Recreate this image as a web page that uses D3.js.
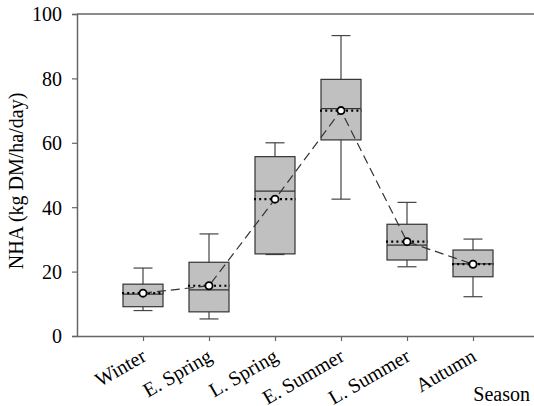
<!DOCTYPE html>
<html>
<head>
<meta charset="utf-8">
<script src="https://cdn.jsdelivr.net/npm/d3@7"></script>
<style>
  body { margin: 0; background: #fff; }
</style>
</head>
<body>
<div id="chart"></div>
<script>
// data
var seasons = ["Winter", "E. Spring", "L. Spring", "E. Summer", "L. Summer", "Autumn"];
var whiskerLow  = [7.9, 5.3, 25.3, 42.5, 21.5, 12.2];
var q1          = [9.1, 7.5, 25.5, 60.9, 23.6, 18.4];
var medians     = [13.0, 14.3, 45.0, 70.6, 28.2, 22.4];
var q3          = [16.1, 22.9, 55.7, 79.7, 34.7, 26.7];
var whiskerHigh = [21.1, 31.7, 60.0, 93.3, 41.5, 30.1];
var means       = [13.3, 15.6, 42.5, 70.0, 29.3, 22.3];
var yTicks = [0, 20, 40, 60, 80, 100];

var W = 534, H = 406;
var mLeft = 77, mTop = 14, mBottom = 336, mRight = 539;
var FONT = "'Liberation Serif', 'DejaVu Serif', serif";

var svg = d3.select("#chart").append("svg")
    .attr("width", W).attr("height", H);

var x = d3.scalePoint().domain(seasons).range([mLeft, mRight]).padding(1);
var y = d3.scaleLinear().domain([0, 100]).range([mBottom, mTop]);

var boxW = 40, capW = 19;
var data = seasons.map(function(s, i) {
  return {s: s, lo: whiskerLow[i], q1: q1[i], med: medians[i], q3: q3[i], hi: whiskerHigh[i], mean: means[i]};
});

// frame top / right
svg.append("line").attr("x1", mLeft).attr("x2", mRight).attr("y1", y(100)).attr("y2", y(100))
  .attr("stroke", "#666").attr("stroke-width", 1.5);
svg.append("line").attr("x1", mRight).attr("x2", mRight).attr("y1", mTop).attr("y2", mBottom)
  .attr("stroke", "#666").attr("stroke-width", 1.5);

// axes
var yAxis = svg.append("g").attr("transform", "translate(" + mLeft + ",0)")
  .call(d3.axisLeft(y).tickValues(yTicks).tickSize(5).tickPadding(10));
var xAxis = svg.append("g").attr("transform", "translate(0," + mBottom + ")")
  .call(d3.axisBottom(x).tickSize(5).tickSizeOuter(0));
[yAxis, xAxis].forEach(function(a) {
  a.attr("font-family", null).attr("font-size", null);
  a.select(".domain").attr("stroke", "#666").attr("stroke-width", 1.5);
  a.selectAll(".tick line").attr("stroke", "#666").attr("stroke-width", 1.2);
});
yAxis.selectAll("text").style("font-family", FONT).style("font-size", "20px").attr("fill", "#000").attr("dy", "0.34em");
xAxis.selectAll("text")
  .style("font-family", FONT)
  .style("font-size", "20px")
  .attr("fill", "#000")
  .attr("text-anchor", "end")
  .attr("y", 0).attr("dy", 0)
  .attr("transform", "translate(4,24) rotate(-30)");

// whiskers
var g = svg.append("g");
var items = g.selectAll("g.box").data(data).enter().append("g").attr("class", "box");
items.append("line")
  .attr("x1", function(d) { return x(d.s); }).attr("x2", function(d) { return x(d.s); })
  .attr("y1", function(d) { return y(d.hi); }).attr("y2", function(d) { return y(d.lo); })
  .attr("stroke", "#444").attr("stroke-width", 1.2);
["hi", "lo"].forEach(function(k) {
  items.append("line")
    .attr("x1", function(d) { return x(d.s) - capW / 2; })
    .attr("x2", function(d) { return x(d.s) + capW / 2; })
    .attr("y1", function(d) { return y(d[k]); }).attr("y2", function(d) { return y(d[k]); })
    .attr("stroke", "#444").attr("stroke-width", 1.2);
});
items.append("rect")
  .attr("x", function(d) { return x(d.s) - boxW / 2; })
  .attr("y", function(d) { return y(d.q3); })
  .attr("width", boxW)
  .attr("height", function(d) { return y(d.q1) - y(d.q3); })
  .attr("fill", "#c0c0c0").attr("stroke", "#333").attr("stroke-width", 1.2);
items.append("line")
  .attr("x1", function(d) { return x(d.s) - boxW / 2; })
  .attr("x2", function(d) { return x(d.s) + boxW / 2; })
  .attr("y1", function(d) { return y(d.med); }).attr("y2", function(d) { return y(d.med); })
  .attr("stroke", "#333").attr("stroke-width", 1.2);
// mean dotted line
items.append("line")
  .attr("x1", function(d) { return x(d.s) - boxW / 2 - 1; })
  .attr("x2", function(d) { return x(d.s) + boxW / 2 + 1; })
  .attr("y1", function(d) { return y(d.mean); }).attr("y2", function(d) { return y(d.mean); })
  .attr("stroke", "#000").attr("stroke-width", 2.2)
  .attr("stroke-dasharray", "2,3.2");

// dashed line through means
var line = d3.line().x(function(d) { return x(d.s); }).y(function(d) { return y(d.mean); });
g.append("path").datum(data).attr("d", line)
  .attr("fill", "none").attr("stroke", "#333").attr("stroke-width", 1.2)
  .attr("stroke-dasharray", "9,5");

// mean circles
g.selectAll("circle").data(data).enter().append("circle")
  .attr("cx", function(d) { return x(d.s); })
  .attr("cy", function(d) { return y(d.mean); })
  .attr("r", 3.6)
  .attr("fill", "#fff").attr("stroke", "#000").attr("stroke-width", 1.8);

// axis titles
svg.append("text")
  .attr("transform", "translate(23,181) rotate(-90)")
  .attr("text-anchor", "middle")
  .style("font-family", FONT)
  .style("font-size", "20px")
  .text("NHA (kg DM/ha/day)");
svg.append("text")
  .attr("x", 530).attr("y", 401)
  .attr("text-anchor", "end")
  .style("font-family", FONT)
  .style("font-size", "20px")
  .text("Season");
</script>
</body>
</html>
